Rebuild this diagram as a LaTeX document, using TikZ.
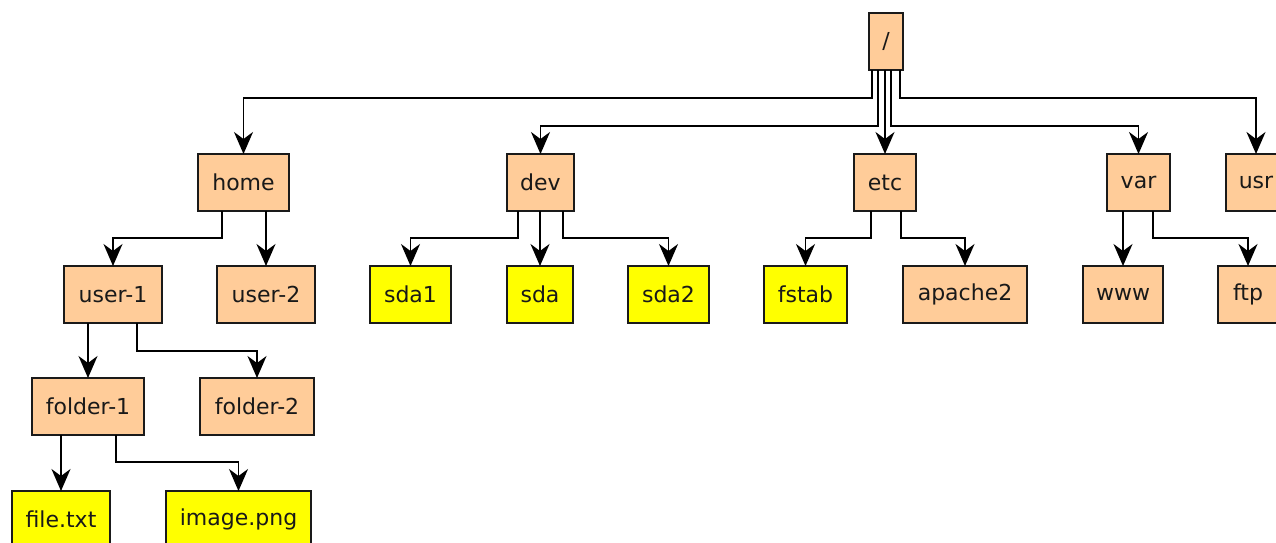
\documentclass[tikz,border=0pt]{standalone}
\usepackage{fontspec}
\setmainfont{DejaVu Sans}
\usetikzlibrary{arrows.meta}
\definecolor{peach}{HTML}{FFCC99}
\definecolor{yel}{HTML}{FFFF00}
\definecolor{edgecol}{HTML}{000000}
\definecolor{boxcol}{HTML}{1A1A1A}
\begin{document}
\begin{tikzpicture}[x=1pt,y=-1pt,
  box/.style={draw=boxcol, line width=1.5pt, minimum height=57pt, inner sep=0pt, outer sep=0pt,
    font=\fontsize{22}{26}\selectfont, text=black!90, anchor=center},
  dir/.style={box, fill=peach},
  fil/.style={box, fill=yel},
  edge/.style={draw=edgecol, line width=1.8pt, -{Stealth[length=22pt,width=19pt,inset=7pt]}}]
\useasboundingbox (0,0) rectangle (1276,542);
\clip (0,0) rectangle (1276,542);
% level 0
\node[dir, minimum width=34pt] (root) at (886,41.5) {/};
% level 1
\node[dir, minimum width=91pt] (home) at (243.5,182.5) {home};
\node[dir, minimum width=67pt] (dev) at (540.5,182.5) {dev};
\node[dir, minimum width=62pt] (etc) at (885,182.5) {etc};
\node[dir, minimum width=63pt] (var) at (1138.5,182.5) {var};
\node[dir, minimum width=60pt] (usr) at (1256,182.5) {usr};
% level 2
\node[dir, minimum width=98pt] (user1) at (113,294.5) {user-1};
\node[dir, minimum width=98pt] (user2) at (266,294.5) {user-2};
\node[fil, minimum width=81pt] (sda1) at (410.5,294.5) {sda1};
\node[fil, minimum width=66pt] (sda) at (540,294.5) {sda};
\node[fil, minimum width=81pt] (sda2) at (668.5,294.5) {sda2};
\node[fil, minimum width=83pt] (fstab) at (805.5,294.5) {fstab};
\node[dir, minimum width=124pt] (apache) at (965,294.5) {apache2};
\node[dir, minimum width=80pt] (www) at (1123,294.5) {www};
\node[dir, minimum width=60pt] (ftp) at (1248,294.5) {ftp};
% level 3
\node[dir, minimum width=112pt] (folder1) at (88,406.5) {folder-1};
\node[dir, minimum width=114pt] (folder2) at (257,406.5) {folder-2};
% level 4
\node[fil, minimum width=98pt] (file) at (61,519.5) {file.txt};
\node[fil, minimum width=145pt] (image) at (238.5,519.5) {image.png};
% edges from root
\draw[edge] ([xshift=-14pt]root.south) -- ++(0,28) -| (home.north);
\draw[edge] ([xshift=-8pt]root.south) -- ++(0,56) -| (dev.north);
\draw[edge] (etc.north |- root.south) -- (etc.north);
\draw[edge] ([xshift=5pt]root.south) -- ++(0,56) -| (var.north);
\draw[edge] ([xshift=14pt]root.south) -- ++(0,28) -| (usr.north);
% home
\draw[edge] ([xshift=-21.5pt]home.south) -- ++(0,27) -| (user1.north);
\draw[edge] (user2.north |- home.south) -- (user2.north);
% dev
\draw[edge] ([xshift=-22.5pt]dev.south) -- ++(0,27) -| (sda1.north);
\draw[edge] (sda.north |- dev.south) -- (sda.north);
\draw[edge] ([xshift=22.5pt]dev.south) -- ++(0,27) -| (sda2.north);
% etc
\draw[edge] ([xshift=-14pt]etc.south) -- ++(0,27) -| (fstab.north);
\draw[edge] ([xshift=16pt]etc.south) -- ++(0,27) -| (apache.north);
% var
\draw[edge] (www.north |- var.south) -- (www.north);
\draw[edge] ([xshift=14.5pt]var.south) -- ++(0,27) -| (ftp.north);
% user-1
\draw[edge] (folder1.north |- user1.south) -- (folder1.north);
\draw[edge] ([xshift=24pt]user1.south) -- ++(0,28) -| (folder2.north);
% folder-1
\draw[edge] (file.north |- folder1.south) -- (file.north);
\draw[edge] ([xshift=28pt]folder1.south) -- ++(0,27) -| (image.north);
\end{tikzpicture}
\end{document}
